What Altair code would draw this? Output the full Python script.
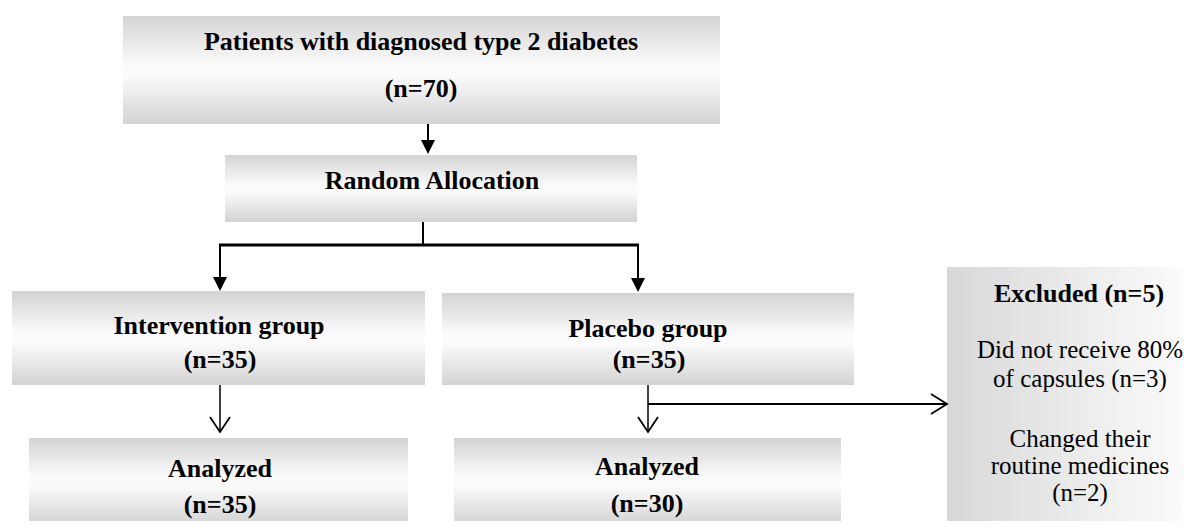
import altair as alt
import pandas as pd

# ---------------- data (content) ----------------
node_ids = ["patients", "random", "intervention", "placebo", "analyzed_i", "analyzed_p", "excluded"]
node_titles = ["Patients with diagnosed type 2 diabetes", "Random Allocation", "Intervention group",
               "Placebo group", "Analyzed", "Analyzed", "Excluded"]
node_counts = [70, None, 35, 35, 35, 30, 5]
excl_reason_lines = [["Did not receive 80%", "of capsules"], ["Changed their", "routine medicines"]]
excl_reason_counts = [3, 2]

# ---------------- layout (pixel positions of the page) ----------------
W, H = 1175, 513
X0, Y0 = 8, 8
box_layout = {  # x0, x1, y0, y1
    "patients": (123, 720, 16, 124),
    "random": (225, 637, 155, 222),
    "intervention": (12, 425, 291, 385),
    "placebo": (442, 854, 293, 385),
    "analyzed_i": (29, 408, 438, 524),
    "analyzed_p": (454, 841, 438, 525),
    "excluded": (947, 1200, 267, 535),
}
title_pos = {  # (x, baseline y) of title line, (x, baseline y) of count line
    "patients": ((421, 50), (421, 97)),
    "random": ((432, 189), None),
    "intervention": ((219, 334), (220, 368)),
    "placebo": ((648, 337), (649, 368)),
    "analyzed_i": ((220, 477), (220, 513)),
    "analyzed_p": ((647, 475), (647, 512)),
    "excluded": ((1079, 302), None),
}
reason_line_y = [[358, 387], [447, 474, 501]]
reason_x = 1080

segments = [  # x, y, x2, y2, width
    (428, 124, 428, 147, 2),
    (423, 222, 423, 245, 2),
    (219, 245, 639, 245, 3),
    (220, 245, 220, 280, 2),
    (638, 245, 638, 281, 2),
    (220, 385, 220, 431, 1.5),
    (648, 385, 648, 431, 1.5),
    (648, 404, 946, 404, 2),
]
filled_heads = [(428, 154), (220, 291), (638, 292)]
open_down_heads = [(220, 432), (648, 432)]
open_right_heads = [(947, 404)]

# ---------------- build tables ----------------
boxes_v = []
boxes_h = []
for nid in node_ids:
    x0, x1, y0, y1 = box_layout[nid]
    row = dict(id=nid, x0=x0, x1=x1, y0=y0, y1=y1)
    (boxes_h if nid == "excluded" else boxes_v).append(row)

bold_rows, normal_rows = [], []
for nid, title, cnt in zip(node_ids, node_titles, node_counts):
    tpos, cpos = title_pos[nid]
    if nid == "excluded":
        bold_rows.append(dict(x=tpos[0], y=tpos[1], t=f"{title} (n={cnt})"))
    else:
        bold_rows.append(dict(x=tpos[0], y=tpos[1], t=title))
        if cnt is not None:
            bold_rows.append(dict(x=cpos[0], y=cpos[1], t=f"(n={cnt})"))

for lines, cnt, ys in zip(excl_reason_lines, excl_reason_counts, reason_line_y):
    full = list(lines)
    if len(ys) > len(lines):
        full = full + [f"(n={cnt})"]
    else:
        full[-1] = full[-1] + f" (n={cnt})"
    for t, y in zip(full, ys):
        normal_rows.append(dict(x=reason_x, y=y, t=t))

seg_df = pd.DataFrame(segments, columns=["x", "y", "x2", "y2", "w"])
fh_df = pd.DataFrame(filled_heads, columns=["x", "y"])
od_df = pd.DataFrame(open_down_heads, columns=["x", "y"])
or_df = pd.DataFrame(open_right_heads, columns=["x", "y"])

xs = alt.Scale(domain=[X0, X0 + W], range=[0, W], zero=False, nice=False)
ys_ = alt.Scale(domain=[Y0, Y0 + H], zero=False, nice=False, reverse=True)

def X(f):
    return alt.X(f, type="quantitative", scale=xs, axis=None)

def Y(f):
    return alt.Y(f, type="quantitative", scale=ys_, axis=None)

grad_v = alt.LinearGradient(
    gradient="linear", x1=0, y1=0, x2=0, y2=1,
    stops=[alt.GradientStop(color="#d3d3d3", offset=0),
           alt.GradientStop(color="#fbfbfb", offset=0.45),
           alt.GradientStop(color="#fbfbfb", offset=0.55),
           alt.GradientStop(color="#d3d3d3", offset=1)])
grad_h = alt.LinearGradient(
    gradient="linear", x1=0, y1=0, x2=1, y2=0,
    stops=[alt.GradientStop(color="#d8d8d8", offset=0),
           alt.GradientStop(color="#fdfdfd", offset=1)])

rect_v = alt.Chart(pd.DataFrame(boxes_v)).mark_rect(fill=grad_v).encode(
    x=X("x0"), x2="x1", y=Y("y0"), y2="y1")
rect_h = alt.Chart(pd.DataFrame(boxes_h)).mark_rect(fill=grad_h).encode(
    x=X("x0"), x2="x1", y=Y("y0"), y2="y1")

rules = alt.Chart(seg_df).mark_rule(color="black").encode(
    x=X("x"), x2="x2", y=Y("y"), y2="y2",
    strokeWidth=alt.StrokeWidth("w:Q", scale=None))

fheads = alt.Chart(fh_df).mark_point(
    shape="M0,0L-1,-2L1,-2Z", filled=True, color="black", size=196, opacity=1, strokeWidth=0
).encode(x=X("x"), y=Y("y"))
odheads = alt.Chart(od_df).mark_point(
    shape="M-1,-1.5L0,0L1,-1.5", filled=False, color="black", size=400, opacity=1, strokeWidth=1.8
).encode(x=X("x"), y=Y("y"))
orheads = alt.Chart(or_df).mark_point(
    shape="M-1.6,-1L0,0L-1.6,1", filled=False, color="black", size=400, opacity=1, strokeWidth=1.8
).encode(x=X("x"), y=Y("y"))

FONT = "Liberation Serif, Times New Roman, serif"
text_b = alt.Chart(pd.DataFrame(bold_rows)).mark_text(
    font=FONT, fontSize=26, fontWeight="bold", align="center", baseline="alphabetic", color="black"
).encode(x=X("x"), y=Y("y"), text="t:N")
text_n = alt.Chart(pd.DataFrame(normal_rows)).mark_text(
    font=FONT, fontSize=25, fontWeight="normal", align="center", baseline="alphabetic", color="black"
).encode(x=X("x"), y=Y("y"), text="t:N")

chart = alt.layer(rect_v, rect_h, rules, fheads, odheads, orheads, text_b, text_n).properties(
    width=W, height=H, padding=0, background="white",
    autosize=alt.AutoSizeParams(type="none"),
).configure_view(stroke="transparent", strokeWidth=0)

chart.save("out.html", embed_options={"renderer": "svg", "actions": False})
